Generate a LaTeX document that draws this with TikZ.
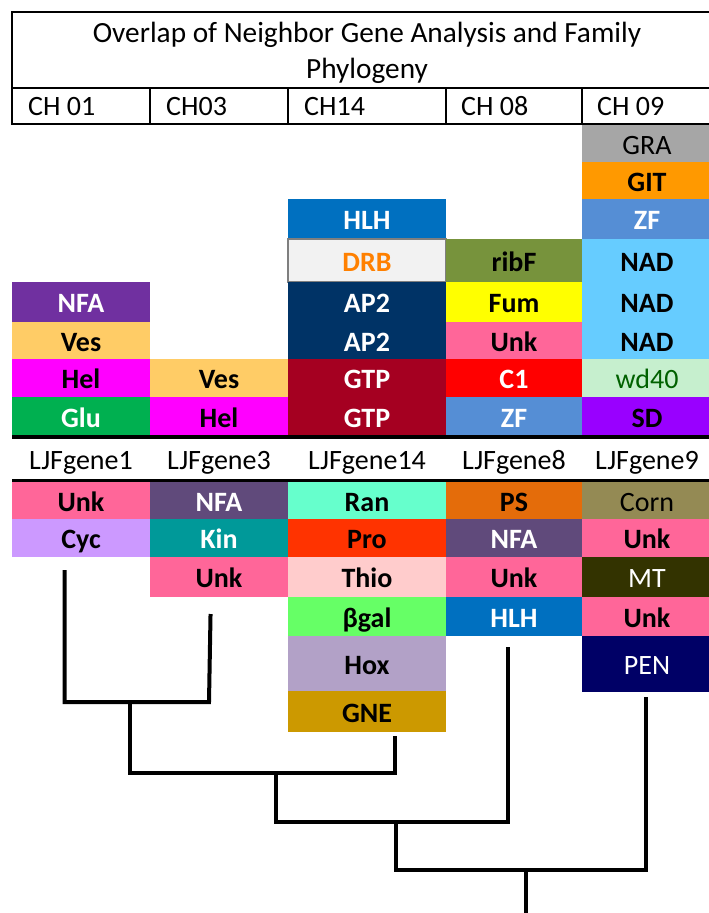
\documentclass[tikz,border=0pt]{standalone}
\usepackage{fontspec}
\setmainfont{Carlito}
\definecolor{cNFA}{HTML}{7030A0}
\definecolor{cVes}{HTML}{FFCC66}
\definecolor{cHel}{HTML}{FF00FF}
\definecolor{cGlu}{HTML}{00B050}
\definecolor{cHLH}{HTML}{0070C0}
\definecolor{cDRBfill}{HTML}{F2F2F2}
\definecolor{cDRBline}{HTML}{7F7F7F}
\definecolor{cDRBtext}{HTML}{FF8000}
\definecolor{cAP}{HTML}{003366}
\definecolor{cGTP}{HTML}{A50021}
\definecolor{cRib}{HTML}{77933C}
\definecolor{cFum}{HTML}{FFFF00}
\definecolor{cUnk}{HTML}{FF6699}
\definecolor{cCone}{HTML}{FF0000}
\definecolor{cZF}{HTML}{558ED5}
\definecolor{cGRA}{HTML}{A6A6A6}
\definecolor{cGIT}{HTML}{FF9900}
\definecolor{cNAD}{HTML}{66CCFF}
\definecolor{cWD}{HTML}{C6EFCE}
\definecolor{cWDtext}{HTML}{006100}
\definecolor{cSD}{HTML}{9900FF}
\definecolor{cNFAb}{HTML}{604A7B}
\definecolor{cCyc}{HTML}{CC99FF}
\definecolor{cKin}{HTML}{009999}
\definecolor{cRan}{HTML}{66FFCC}
\definecolor{cPro}{HTML}{FF3300}
\definecolor{cThio}{HTML}{FFCCCC}
\definecolor{cGal}{HTML}{66FF66}
\definecolor{cHox}{HTML}{B2A1C7}
\definecolor{cGNE}{HTML}{CC9900}
\definecolor{cPS}{HTML}{E46C0A}
\definecolor{cCorn}{HTML}{948A54}
\definecolor{cMT}{HTML}{333300}
\definecolor{cPEN}{HTML}{000066}

% a coloured gene cell: name, x1, y1, x2, y2, style, text
\newcommand\gcell[7]{%
  \node[cell,#6,minimum width={#4-#2},minimum height={#5-#3}]
    (#1) at ({(#2+#4)/2},{(#3+#5)/2}) {#7};}
% a header cell outline: name, x1, y1, x2, y2
\newcommand\hcell[5]{%
  \node[hbox,minimum width={#4-#2},minimum height={#5-#3}]
    (#1) at ({(#2+#4)/2},{(#3+#5)/2}) {};}

\begin{document}
\begin{tikzpicture}[x=1pt,y=-1pt,
  cell/.style={draw=none,inner sep=0pt,outer sep=0pt,
    text height=21pt,text depth=0pt,
    font=\fontsize{28}{30}\selectfont\bfseries},
  lite/.style={font=\fontsize{28}{30}\selectfont},
  wt/.style={text=white},
  hbox/.style={draw=black,line width=1.5pt,inner sep=0pt,outer sep=0pt},
  htext/.style={inner sep=0pt,font=\fontsize{28}{30}\selectfont},
  branch/.style={draw=black,line width=4pt,line join=miter,line cap=rect}]

\useasboundingbox (0,0) rectangle (709,913);
\clip (0,0) rectangle (709,913);

% ---------- header table ----------
\hcell{title}{12}{12}{722}{88}
\node[htext,align=center,font=\fontsize{29.3}{36}\selectfont] (titletext) at (367,52.5)
  {Overlap of Neighbor Gene Analysis and Family\\Phylogeny};
\hcell{h1}{12}{88}{150}{124}
\hcell{h2}{150}{88}{288}{124}
\hcell{h3}{288}{88}{446}{124}
\hcell{h4}{446}{88}{582}{124}
\hcell{h5}{582}{88}{722}{124}
\node[htext,anchor=base west] (t1) at (28,115) {CH 01};
\node[htext,anchor=base west] (t2) at (166,115) {CH03};
\node[htext,anchor=base west] (t3) at (304,115) {CH14};
\node[htext,anchor=base west] (t4) at (461,115) {CH 08};
\node[htext,anchor=base west] (t5) at (597,115) {CH 09};

% ---------- upper stacks ----------
% CH 01
\gcell{u1a}{12}{282}{150}{322}{fill=cNFA,wt}{NFA}
\gcell{u1b}{12}{322}{150}{359}{fill=cVes}{Ves}
\gcell{u1c}{12}{359}{150}{397}{fill=cHel}{Hel}
\gcell{u1d}{12}{397}{150}{436}{fill=cGlu,wt}{Glu}
% CH03
\gcell{u2a}{150}{359}{288}{397}{fill=cVes}{Ves}
\gcell{u2b}{150}{397}{288}{436}{fill=cHel}{Hel}
% CH14
\gcell{u3a}{288}{199}{446}{239}{fill=cHLH,wt}{HLH}
\gcell{u3b}{288}{239}{446}{282}{fill=cDRBfill,text=cDRBtext}{DRB}
\draw[cDRBline,line width=2.5pt] (u3b.north west) rectangle (u3b.south east);
\gcell{u3c}{288}{282}{446}{322}{fill=cAP,wt}{AP2}
\gcell{u3d}{288}{322}{446}{359}{fill=cAP,wt}{AP2}
\gcell{u3e}{288}{359}{446}{397}{fill=cGTP,wt}{GTP}
\gcell{u3f}{288}{397}{446}{436}{fill=cGTP,wt}{GTP}
% CH 08
\gcell{u4a}{446}{239}{582}{282}{fill=cRib}{ribF}
\gcell{u4b}{446}{282}{582}{322}{fill=cFum}{Fum}
\gcell{u4c}{446}{322}{582}{359}{fill=cUnk}{Unk}
\gcell{u4d}{446}{359}{582}{397}{fill=cCone,wt}{C1}
\gcell{u4e}{446}{397}{582}{436}{fill=cZF,wt}{ZF}
% CH 09
\gcell{u5a}{582}{125}{712}{162}{fill=cGRA,lite}{GRA}
\gcell{u5b}{582}{162}{712}{199}{fill=cGIT}{GIT}
\gcell{u5c}{582}{199}{712}{239}{fill=cZF,wt}{ZF}
\gcell{u5d}{582}{239}{712}{282}{fill=cNAD}{NAD}
\gcell{u5e}{582}{282}{712}{322}{fill=cNAD}{NAD}
\gcell{u5f}{582}{322}{712}{359}{fill=cNAD}{NAD}
\gcell{u5g}{582}{359}{712}{397}{fill=cWD,lite,text=cWDtext}{wd40}
\gcell{u5h}{582}{397}{712}{436}{fill=cSD}{SD}

% ---------- gene row ----------
\coordinate (sepAl) at (12,437);
\coordinate (sepAr) at (712,437);
\draw[line width=3.5pt] (sepAl) -- (sepAr);
\node[htext,anchor=base] (g1) at (81,469) {LJFgene1};
\node[htext,anchor=base] (g2) at (219,469) {LJFgene3};
\node[htext,anchor=base] (g3) at (367,469) {LJFgene14};
\node[htext,anchor=base] (g4) at (514,469) {LJFgene8};
\node[htext,anchor=base] (g5) at (647,469) {LJFgene9};
\coordinate (sepBl) at (12,480.5);
\coordinate (sepBr) at (712,480.5);
\draw[line width=2.5pt] (sepBl) -- (sepBr);

% ---------- lower stacks ----------
\gcell{l1a}{12}{482}{150}{519}{fill=cUnk}{Unk}
\gcell{l1b}{12}{519}{150}{557}{fill=cCyc}{Cyc}
\gcell{l2a}{150}{482}{288}{519}{fill=cNFAb,wt}{NFA}
\gcell{l2b}{150}{519}{288}{557}{fill=cKin,wt}{Kin}
\gcell{l2c}{150}{557}{288}{597}{fill=cUnk}{Unk}
\gcell{l3a}{288}{482}{446}{519}{fill=cRan}{Ran}
\gcell{l3b}{288}{519}{446}{557}{fill=cPro}{Pro}
\gcell{l3c}{288}{557}{446}{597}{fill=cThio}{Thio}
\gcell{l3d}{288}{597}{446}{636}{fill=cGal}{βgal}
\gcell{l3e}{288}{636}{446}{691}{fill=cHox}{Hox}
\gcell{l3f}{288}{691}{446}{732}{fill=cGNE}{GNE}
\gcell{l4a}{446}{482}{582}{519}{fill=cPS}{PS}
\gcell{l4b}{446}{519}{582}{557}{fill=cNFAb,wt}{NFA}
\gcell{l4c}{446}{557}{582}{597}{fill=cUnk}{Unk}
\gcell{l4d}{446}{597}{582}{636}{fill=cHLH,wt}{HLH}
\gcell{l5a}{582}{482}{712}{519}{fill=cCorn,lite}{Corn}
\gcell{l5b}{582}{519}{712}{557}{fill=cUnk}{Unk}
\gcell{l5c}{582}{557}{712}{597}{fill=cMT,lite,wt}{MT}
\gcell{l5d}{582}{597}{712}{636}{fill=cUnk}{Unk}
\gcell{l5e}{582}{636}{712}{692}{fill=cPEN,lite,wt}{PEN}

% ---------- family tree ----------
\coordinate (leaf1) at (64.5,572);
\coordinate (leaf2) at (210.5,616);
\coordinate (leaf3) at (395,738);
\coordinate (leaf4) at (508,649);
\coordinate (leaf5) at (646,699);
\coordinate (j1a) at (64.5,702);
\coordinate (j1b) at (209,702);
\coordinate (s1a) at (130,702);
\coordinate (s1b) at (130,773);
\coordinate (j2) at (395,773);
\coordinate (s2a) at (276,773);
\coordinate (s2b) at (276,822);
\coordinate (j3) at (508,822);
\coordinate (s3a) at (395.5,822);
\coordinate (s3b) at (395.5,870);
\coordinate (j4) at (646,870);
\coordinate (roota) at (526,870);
\coordinate (rootb) at (526,920);
\draw[branch] (leaf1) -- (j1a) -- (j1b) -- (leaf2);
\draw[branch] (s1a) -- (s1b) -- (j2) -- (leaf3);
\draw[branch] (s2a) -- (s2b) -- (j3) -- (leaf4);
\draw[branch] (s3a) -- (s3b) -- (j4) -- (leaf5);
\draw[branch] (roota) -- (rootb);
\end{tikzpicture}
\end{document}
